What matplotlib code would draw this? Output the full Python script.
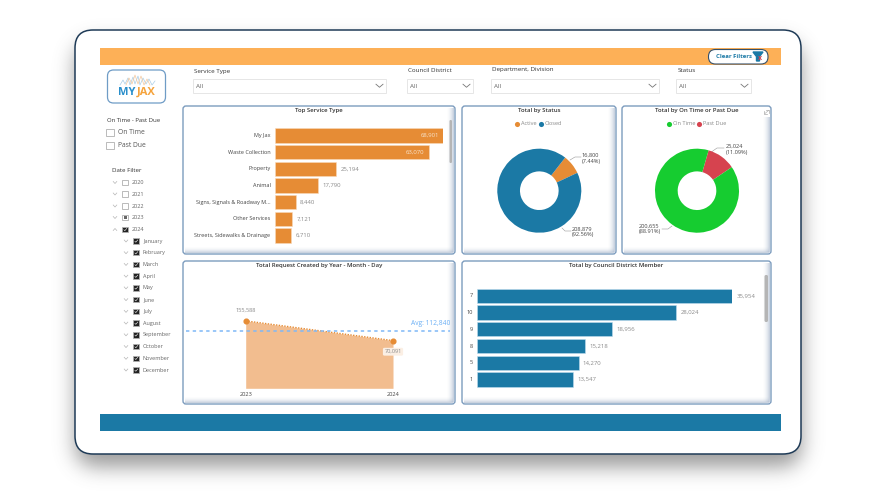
import numpy as np
import matplotlib
matplotlib.use("Agg")
import matplotlib.pyplot as plt
from matplotlib.patches import FancyBboxPatch, Rectangle

plt.rcParams['font.family'] = ['Open Sans', 'DejaVu Sans']

W, H = 878, 500

ORANGE = "#E68C35"
BLUE = "#1B79A5"
GREEN = "#16CC30"
RED = "#D6434F"
TXT = "#444444"
GREY = "#8a8a8a"

# data
service_types = ["My Jax", "Waste Collection", "Property", "Animal",
                 "Signs, Signals & Roadway M...", "Other Services", "Streets, Sidewalks & Drainage"]
service_vals = [68901, 63070, 25194, 17790, 8440, 7121, 6710]
service_lbls = ["68,901", "63,070", "25,194", "17,790", "8,440", "7,121", "6,710"]

status_names = ["Active", "Closed"]
status_vals = [16800, 208879]
status_lbls = ["16,800\n(7.44%)", "208,879\n(92.56%)"]

due_names = ["On Time", "Past Due"]
due_vals = [200655, 25024]
due_lbls = ["200,655\n(88.91%)", "25,024\n(11.09%)"]

years = ["2023", "2024"]
year_vals = [155588, 70091]
year_lbls = ["155,588", "70,091"]
year_avg = 112840

districts = ["7", "10", "9", "8", "5", "1"]
district_vals = [35954, 28024, 18956, 15218, 14270, 13547]
district_lbls = ["35,954", "28,024", "18,956", "15,218", "14,270", "13,547"]

months = ["January", "February", "March", "April", "May", "June", "July",
          "August", "September", "October", "November", "December"]
filter_years = ["2020", "2021", "2022", "2023", "2024"]

fig = plt.figure(figsize=(W / 100, H / 100), dpi=100, facecolor="white")

# background axes in pixel coordinates, y pointing down
bg = fig.add_axes([0, 0, 1, 1])
bg.set_xlim(0, W)
bg.set_ylim(H, 0)
bg.axis("off")


def ax_px(x0, y0, x1, y1):
    a = fig.add_axes([x0 / W, 1 - y1 / H, (x1 - x0) / W, (y1 - y0) / H], zorder=5)
    a.patch.set_alpha(0)
    a.axis("off")
    return a


def rbox(x0, y0, x1, y1, r, fc, ec="none", lw=1, alpha=None, z=1):
    p = FancyBboxPatch((x0 + r, y0 + r), x1 - x0 - 2 * r, y1 - y0 - 2 * r,
                       boxstyle="round,pad=%f,rounding_size=%f" % (r, r),
                       fc=fc, ec=ec, lw=lw, alpha=alpha, zorder=z)
    bg.add_patch(p)
    return p


def panel(x0, y0, x1, y1, title):
    rbox(x0, y0, x1, y1, 3, "white", "#7C9CBE", 1.0, z=2)
    # soft inner shadow right and bottom
    tint = (0.58, 0.65, 0.75)
    grad = np.linspace(0, 1, 32) ** 2 * 0.55
    rgba = np.ones((1, 32, 4))
    rgba[..., :3] = tint
    rgba[..., 3] = grad
    bg.imshow(rgba, extent=(x1 - 9, x1 - 1, y1 - 2, y0 + 2), aspect="auto", zorder=3)
    rgba = np.ones((32, 1, 4))
    rgba[..., :3] = tint
    rgba[..., 3] = grad.reshape(-1, 1)
    bg.imshow(rgba, extent=(x0 + 2, x1 - 2, y1 - 1, y1 - 8), aspect="auto", zorder=3)
    bg.text((x0 + x1) / 2, y0 + 4.5, title, ha="center", va="center", fontsize=4.3,
            color="#333333", fontweight="semibold", zorder=6)


def slicer(x0, x1, title, y_title, y0=78.5, y1=93):
    bg.text(x0 + 1, y_title, title, fontsize=4.5, color="#333333", va="center", zorder=6)
    bg.add_patch(Rectangle((x0, y0), x1 - x0, y1 - y0, fc="white", ec="#E6E6E6", lw=0.7, zorder=2))
    bg.text(x0 + 3, (y0 + y1) / 2 + 0.5, "All", fontsize=4.5, color="#666666", va="center", zorder=6)
    cx = x1 - 7
    cy = (y0 + y1) / 2
    bg.plot([cx - 3.5, cx, cx + 3.5], [cy - 1.5, cy + 1.5, cy - 1.5], color="#777777", lw=0.6, zorder=6)


def chevron(x, y, up=False):
    d = -1 if up else 1
    bg.plot([x - 1.8, x, x + 1.8], [y - d, y + d, y - d], color="#b5b5b5", lw=0.5, zorder=6)


def checkbox(x, y, s, state=0):
    bg.add_patch(Rectangle((x, y - s / 2), s, s, fc="#222222" if state == 2 else "white",
                           ec="#b0b0b0", lw=0.6, zorder=6))
    if state == 1:
        bg.add_patch(Rectangle((x + s * 0.25, y - s * 0.25), s * 0.5, s * 0.5, fc="#666666", ec="none", zorder=7))
    if state == 2:
        bg.plot([x + s * 0.25, x + s * 0.42, x + s * 0.78], [y + s * 0.05, y + s * 0.22, y - s * 0.2],
                color="white", lw=0.4, zorder=7)


# device frame with blurred shadow
yy, xx = np.mgrid[0:H, 0:W]
r = 18
dx = np.maximum(np.maximum(75 + r - xx, xx - (801 - r)), 0)
dy = np.maximum(np.maximum(42 + r - yy, yy - (466 - r)), 0)
mask = (dx ** 2 + dy ** 2 <= r ** 2).astype(float)
t = np.arange(-30, 31)
kern = np.exp(-t ** 2 / (2 * 10.0 ** 2))
kern = kern / kern.sum()
mask = np.apply_along_axis(lambda v: np.convolve(v, kern, mode="same"), 0, mask)
mask = np.apply_along_axis(lambda v: np.convolve(v, kern, mode="same"), 1, mask)
shadow = np.zeros((H, W, 4))
shadow[..., :3] = 0.35
shadow[..., 3] = mask * 0.6
bg.imshow(shadow, extent=(0, W, H, 0), aspect="auto", zorder=0.5)
rbox(75, 30, 801, 454, 18, "white", "#1F3B57", 1.1, z=1)

# header and footer bands
bg.add_patch(Rectangle((100, 48), 681, 17, fc="#FDB057", ec="none", zorder=2))
bg.add_patch(Rectangle((100, 414), 681, 17, fc=BLUE, ec="none", zorder=2))

# clear filters button
rbox(708.5, 49.5, 768, 64, 7, "white", "#34506B", 0.8, z=3)
bg.text(716, 57, "Clear Filters", fontsize=4.3, color="#1B79A5", fontweight="bold", va="center", zorder=6)
bg.fill([753, 763, 759.5, 759.5, 756.5, 756.5], [52, 52, 56.5, 61, 61, 56.5], color="#1B79A5", zorder=6)
bg.text(759.5, 58.5, "x", fontsize=5, color="#D6434F", fontweight="bold", ha="center", va="center", zorder=7)

# logo
rbox(107.5, 70, 165.5, 103, 6, "white", "#6F9CC6", 0.9, z=2)
bg.text(136, 92.5, "MY", fontsize=8.0, color="#2A8FCB", fontweight="bold", va="center", ha="right", zorder=6)
bg.text(137, 92.5, "JAX", fontsize=8.0, color="#F5A33C", fontweight="bold", va="center", zorder=6)
bg.plot([120, 123, 125, 128, 130, 133, 135, 138, 140, 143, 146, 149, 152, 155],
        [85, 80, 84, 78, 85, 77, 84, 76, 85, 78, 84, 79, 85, 81], color="#A9CDE6", lw=0.5, zorder=6)
bg.plot([126, 129, 132, 135, 138, 141, 144, 147, 150],
        [85, 78, 84, 75, 84, 76, 85, 79, 85], color="#F3C9A0", lw=0.5, zorder=6)

# slicers
slicer(193.5, 386.5, "Service Type", 71)
slicer(407.5, 473.5, "Council District", 70)
slicer(491.5, 659.5, "Department, Division", 70)
slicer(676.5, 751.5, "Status", 70)

# left filters
bg.text(107, 120, "On Time - Past Due", fontsize=4.3, color="#333333", va="center", zorder=6)
for y, name in zip([132.5, 145.5], due_names):
    checkbox(106.5, y, 7.5, 0)
    bg.text(118, y, name, fontsize=4.9, color="#555555", va="center", zorder=6)

bg.text(112.5, 171, "Date Filter", fontsize=4.4, color="#333333", va="center", zorder=6)
y_year = [182.5, 194, 206, 217.5, 229.5]
states = [0, 0, 0, 1, 2]
for y, name, st in zip(y_year, filter_years, states):
    chevron(115, y, up=(name == "2024"))
    checkbox(122.5, y, 5.5, st)
    bg.text(132, y, name, fontsize=4.0, color="#666666", va="center", zorder=6)
for i, name in enumerate(months):
    y = 241 + i * 11.73
    chevron(126, y)
    checkbox(133.5, y, 5.5, 2)
    bg.text(143, y, name, fontsize=4.0, color="#666666", va="center", zorder=6)

# panels
panel(183, 106, 455, 254, "Top Service Type")
panel(462, 106, 616, 254, "Total by Status")
panel(622, 106, 771, 254, "Total by On Time or Past Due")
panel(183, 261, 455, 404, "Total Request Created by Year - Month - Day")
panel(462, 261, 771, 404, "Total by Council District Member")

# scrollbars
rbox(449.5, 120, 452, 163, 1.2, "#B5B5B5", z=6)
rbox(764.5, 275, 768, 322, 1.5, "#B5B5B5", z=6)

# focus icon
bg.add_patch(Rectangle((761, 107.5), 9.5, 9.5, fc="white", ec="none", zorder=5))
bg.plot([764, 764, 767], [111, 114, 114], color="#aaaaaa", lw=0.5, zorder=6)
bg.plot([766, 769, 769], [110, 110, 113], color="#aaaaaa", lw=0.5, zorder=6)
bg.plot([765, 768.5], [113.5, 110.5], color="#aaaaaa", lw=0.4, zorder=6)

# top service bars
a = ax_px(275, 127, 443, 244)
y = np.arange(len(service_types))
a.barh(y, service_vals, height=0.86, color=ORANGE, edgecolor="#F8D9BB", linewidth=0.4)
a.set_xlim(0, 68901)
a.set_ylim(len(service_types) - 0.5, -0.5)
for i, (name, v, lb) in enumerate(zip(service_types, service_vals, service_lbls)):
    a.annotate(name, (0, i), xytext=(-3.2, 0), textcoords="offset points", ha="right", va="center",
               fontsize=4.0, color=TXT)
    if i < 2:
        a.annotate(lb, (v, i), xytext=(-3, 0), textcoords="offset points", ha="right", va="center",
                   fontsize=4.3, color="#F7E3CC")
    else:
        a.annotate(lb, (v, i), xytext=(3.2, 0), textcoords="offset points", ha="left", va="center",
                   fontsize=4.3, color=GREY)

# council district bars
a = ax_px(477.3, 287.4, 732.3, 388)
y = np.arange(len(districts))
a.barh(y, district_vals, height=0.85, color=BLUE, edgecolor="#BFDDEE", linewidth=0.4)
a.set_xlim(0, 35954)
a.set_ylim(len(districts) - 0.5, -0.5)
for i, (name, v, lb) in enumerate(zip(districts, district_vals, district_lbls)):
    a.annotate(name, (0, i), xytext=(-3.2, 0), textcoords="offset points", ha="right", va="center",
               fontsize=4.1, color=TXT)
    a.annotate(lb, (v, i), xytext=(3.2, 0), textcoords="offset points", ha="left", va="center",
               fontsize=4.3, color=GREY)


def donut(cx, cy, vals, colors, start, lbls, lbl_px, lines):
    R = 42
    a = ax_px(cx - R, cy - R, cx + R, cy + R)
    a.pie(vals, colors=colors, startangle=start, counterclock=False, radius=1.0,
          wedgeprops=dict(width=0.54, edgecolor="none"))
    a.set_xlim(-1, 1)
    a.set_ylim(-1, 1)
    for lb, (tx, ty), ln in zip(lbls, lbl_px, lines):
        bg.text(tx, ty, lb, fontsize=4.1, color=TXT, va="center", ha="left", linespacing=1.15, zorder=6)
        bg.plot(ln[0], ln[1], color="#999999", lw=0.4, zorder=6)


donut(539.3, 190.7, status_vals, [ORANGE, BLUE], 52, status_lbls,
      [(582, 158.5), (572, 232)],
      [([570, 575, 581], [160, 157, 157]), ([562, 565, 571], [228, 231, 231])])
donut(697, 190.7, [due_vals[1], due_vals[0]], [RED, GREEN], 74, [due_lbls[1], due_lbls[0]],
      [(726, 149.5), (639, 229)],
      [([710, 717, 724], [153, 148, 148]), ([662, 668, 672], [229, 229, 226])])

# donut legends
for (x, name, col) in [(517.5, status_names[0], ORANGE), (541.5, status_names[1], BLUE)]:
    bg.plot([x], [123.5], "o", ms=3.7, color=col, mec="none", zorder=6)
    bg.text(x + 3.2, 123.5, name, fontsize=4.1, color=GREY, va="center", zorder=6)
for (x, name, col) in [(669.5, due_names[0], GREEN), (699.5, due_names[1], RED)]:
    bg.plot([x], [123.5], "o", ms=3.7, color=col, mec="none", zorder=6)
    bg.text(x + 3.2, 123.5, name, fontsize=4.1, color=GREY, va="center", zorder=6)

# area chart: the value axis does not start at zero in the reference
a = ax_px(186, 300, 450, 388.3)
xpos = [0, 1]
a.set_xlim(-59.7 / 147.3, 1 + 57 / 147.3)
a.set_ylim(-136500, 246000)
a.fill_between(xpos, year_vals, -136500, color="#F2BD8F", lw=0)
a.plot(xpos, year_vals, color=ORANGE, lw=1.0, ls=(0, (1, 1)), marker="o", ms=3.4, clip_on=False)
a.axhline(year_avg, color="#7FB8F7", lw=1.1, ls=(0, (2.2, 2.2)))
a.annotate(year_lbls[0], (0, year_vals[0]), xytext=(0, 8), textcoords="offset points", ha="center",
           va="center", fontsize=4.1, color=GREY)
a.annotate(year_lbls[1], (1, year_vals[1]), xytext=(0, -8), textcoords="offset points", ha="center",
           va="center", fontsize=4.1, color=GREY,
           bbox=dict(boxstyle="round,pad=0.25", fc="#FBEFE4", ec="none"))
a.annotate("Avg: 112,840", (1, year_avg), xycoords=("axes fraction", "data"), xytext=(0, 3),
           textcoords="offset points", ha="right", va="bottom", fontsize=4.8, color="#6CB0F5")
for x, lb in zip(xpos, years):
    a.annotate(lb, (x, -136500), xytext=(0, -4.2), textcoords="offset points", ha="center", va="center",
               fontsize=4.1, color=TXT, annotation_clip=False)

fig.savefig("out.png", dpi=100)
